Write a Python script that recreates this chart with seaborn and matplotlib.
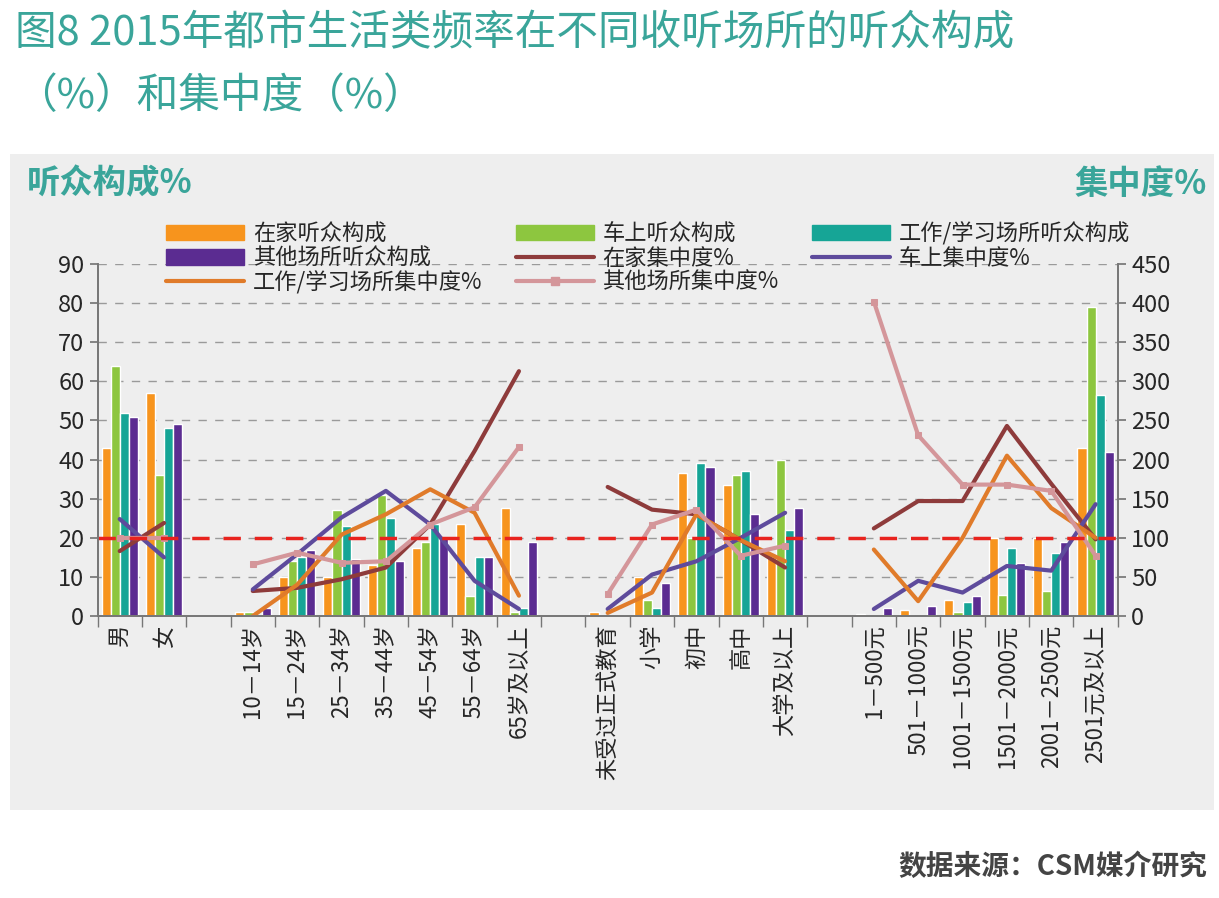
import numpy as np
import pandas as pd
import matplotlib
matplotlib.use("Agg")
import matplotlib.pyplot as plt
import seaborn as sns

sns.set_theme(style="white")
plt.rcParams['font.family'] = ['Noto Sans CJK SC', 'DejaVu Sans']

groups = [
    ["男", "女"],
    ["10－14岁", "15－24岁", "25－34岁", "35－44岁", "45－54岁", "55－64岁", "65岁及以上"],
    ["未受过正式教育", "小学", "初中", "高中", "大学及以上"],
    ["1－500元", "501－1000元", "1001－1500元", "1501－2000元", "2001－2500元", "2501元及以上"],
]

# 听众构成 (left axis), per group
home_share = [[43, 57], [1, 10, 10, 13, 17.5, 23.5, 27.5], [1, 10, 36.5, 33.5, 15], [0.5, 1.5, 4, 20, 20, 43]]
car_share = [[64, 36], [1, 14, 27, 31, 19, 5, 1], [0, 4, 20, 36, 40], [0, 0, 1, 5.5, 6.5, 79]]
work_share = [[52, 48], [0, 15, 23, 25, 23.5, 15, 2], [0, 2, 39, 37, 22], [0, 0, 3.5, 17.5, 16, 56.5]]
other_share = [[51, 49], [2, 17, 14.5, 14, 20, 15, 19], [0, 8.5, 38, 26, 27.5], [2, 2.5, 5, 13.5, 19, 42]]

# 集中度 (right axis), per group
home_conc = [[83, 119], [32, 36, 47, 62, 117, 211, 313], [165, 136, 130, 97, 62], [112, 147, 147, 243, 169, 98]]
car_conc = [[124, 75], [34, 79, 126, 160, 117, 45, 9], [9, 53, 70, 100, 132], [9, 45, 30, 64, 58, 143]]
work_conc = [[100, 100], [0, 40, 104, 130, 162, 132, 26], [4, 30, 130, 97, 70], [85, 19, 100, 205, 138, 100]]
other_conc = [[100, 100], [66, 81, 68, 70, 117, 139, 216], [28, 117, 136, 77, 90], [402, 231, 168, 168, 160, 77]]

share_names = ["在家听众构成", "车上听众构成", "工作/学习场所听众构成", "其他场所听众构成"]
conc_names = ["在家集中度%", "车上集中度%", "工作/学习场所集中度%", "其他场所集中度%"]
bar_colors = ["#F7941D", "#8DC63F", "#16A596", "#5B2C91"]
line_colors = ["#8E3B3B", "#5E4B9C", "#E07B2A", "#D4969A"]
teal = "#3AA59A"

# category order with empty slots between groups
order = []
for i, g in enumerate(groups):
    order += g
    if i < len(groups) - 1:
        order.append(" " * (i + 1))
pos = {c: i for i, c in enumerate(order)}

rows = []
for name, vals in zip(share_names, [home_share, car_share, work_share, other_share]):
    for g, v in zip(groups, vals):
        for c, x in zip(g, v):
            rows.append({"cat": c, "series": name, "value": x})
df = pd.DataFrame(rows)

fig = plt.figure(figsize=(12.19, 8.98), dpi=100)
fig.patches.append(plt.Rectangle((0.008, 0.098), 0.988, 0.73, transform=fig.transFigure,
                                 facecolor="#EEEEEE", edgecolor="none", zorder=-10))
ax = fig.add_axes([0.080, 0.314, 0.837, 0.392])
ax.set_facecolor("#EEEEEE")

sns.barplot(data=df, x="cat", y="value", hue="series", order=order, hue_order=share_names,
            palette=bar_colors, width=0.82, ax=ax, legend=False, saturation=1)

ax2 = ax.twinx()
for name, vals, col in zip(conc_names, [home_conc, car_conc, work_conc, other_conc], line_colors):
    for g, v in zip(groups, vals):
        sub = pd.DataFrame({"x": [pos[c] for c in g], "y": v})
        sns.lineplot(data=sub, x="x", y="y", color=col, lw=3, ax=ax2,
                     marker="s" if name == "其他场所集中度%" else None, markersize=5,
                     markeredgecolor=col)
ax2.axhline(100, color="#E8231E", lw=2.5, ls=(0, (5, 4)))

ax.set_ylim(0, 90)
ax2.set_ylim(0, 450)
ax.set_yticks(range(0, 91, 10))
ax2.set_yticks(range(0, 451, 50))
ax.set_xlim(-0.5, len(order) - 0.5)
ax.yaxis.grid(True, color="#9A9A9A", ls=(0, (6, 6)), lw=1)
ax.set_axisbelow(True)
ax.set_xlabel("")
ax.set_ylabel("")
ax2.set_ylabel("")
ax.tick_params(axis="x", labelsize=16, rotation=90, length=0, pad=6)
ax.tick_params(axis="y", labelsize=17, length=6, color="#777777", left=True)
ax2.tick_params(axis="y", labelsize=17, length=6, color="#777777", right=True)
ax.set_xticks(np.arange(-0.5, len(order), 1), minor=True)
ax.tick_params(axis="x", which="minor", length=8, color="#777777", bottom=True)
for a in (ax, ax2):
    for s in ["top"]:
        a.spines[s].set_visible(False)
    for s in ["left", "right", "bottom"]:
        a.spines[s].set_color("#777777")

handles = [plt.Rectangle((0, 0), 1, 1, color=c) for c in bar_colors]
handles += [plt.Line2D([], [], color=c, lw=3, marker="s" if i == 3 else None)
            for i, c in enumerate(line_colors)]
labels = share_names + conc_names
idx = [0, 3, 6, 1, 4, 7, 2, 5]
fig.legend([handles[i] for i in idx], [labels[i] for i in idx], ncol=3, loc="upper left",
           bbox_to_anchor=(0.12, 0.775), frameon=False, fontsize=16, handlelength=3.5,
           handletextpad=0.4, columnspacing=1.5, labelspacing=0.05)

fig.text(0.012, 0.985, "图8 2015年都市生活类频率在不同收听场所的听众构成", color=teal,
         fontsize=30, va="top")
fig.text(0.012, 0.915, "（%）和集中度（%）", color=teal, fontsize=30, va="top")
fig.text(0.022, 0.795, "听众构成%", color=teal, fontsize=24, fontweight="bold", va="center")
fig.text(0.99, 0.795, "集中度%", color=teal, fontsize=24, fontweight="bold", va="center", ha="right")
fig.text(0.99, 0.035, "数据来源：CSM媒介研究", color="#444444", fontsize=20, fontweight="bold",
         ha="right", va="center")

fig.savefig("out.png", dpi=100)
